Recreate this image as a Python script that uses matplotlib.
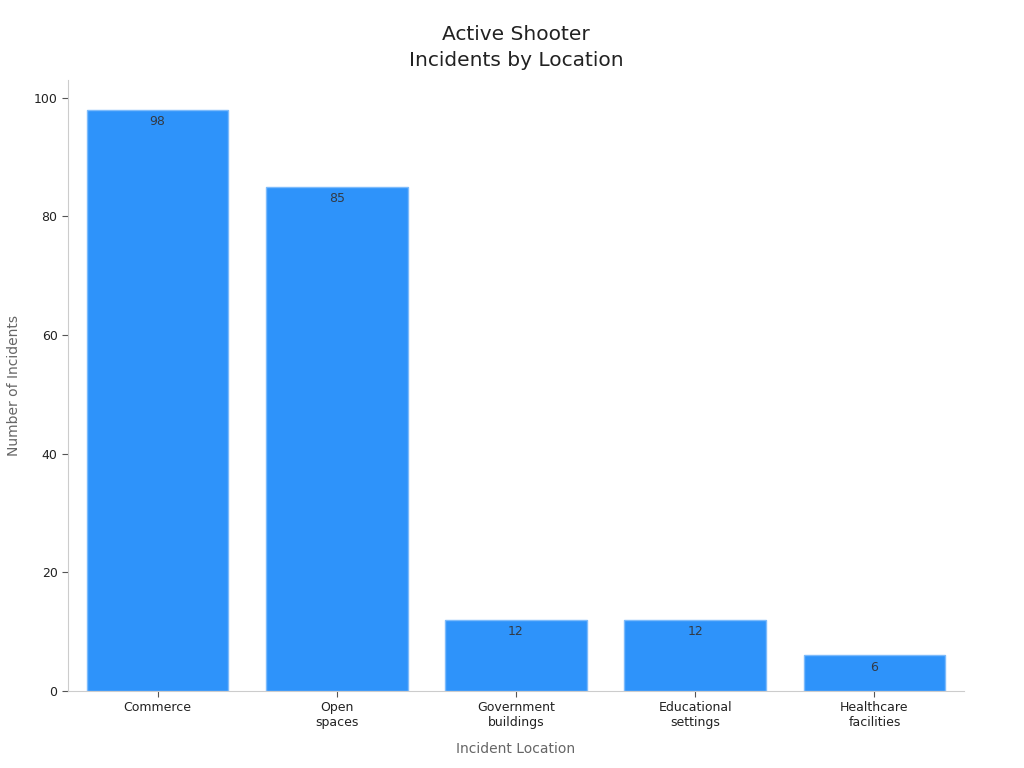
import matplotlib
matplotlib.use("Agg")
import matplotlib.pyplot as plt

categories = ["Commerce", "Open\nspaces", "Government\nbuildings", "Educational\nsettings", "Healthcare\nfacilities"]
incidents = [98, 85, 12, 12, 6]

fig = plt.figure(figsize=(10.24, 7.68), dpi=100)
ax = fig.add_axes([0.0664, 0.1003, 0.875, 0.7955])

x = list(range(len(categories)))
bars = ax.bar(x, incidents, width=0.79, color="#2E93FA", edgecolor="#7DBBFB", linewidth=1)

for xi, v in zip(x, incidents):
    ax.annotate(str(v), xy=(xi, v), xytext=(0, -4), textcoords="offset points",
                ha="center", va="top", fontsize=9, color="#333a44")

ax.set_xlim(-0.5, 4.5)
ax.set_ylim(0, 103)
ax.set_xticks(x)
ax.set_xticklabels(categories, fontsize=9, color="#222222")
ax.set_yticks([0, 20, 40, 60, 80, 100])
ax.tick_params(axis="y", labelsize=9, colors="#222222")
ax.tick_params(axis="both", color="#555555", length=4)
for s in ["top", "right"]:
    ax.spines[s].set_visible(False)
for s in ["left", "bottom"]:
    ax.spines[s].set_color("#cccccc")

ax.set_xlabel("Incident Location", fontsize=10, color="#666666", labelpad=9)
ax.set_ylabel("Number of Incidents", fontsize=10, color="#666666", labelpad=9)
ax.set_title("Active Shooter\nIncidents by Location", fontsize=14.5, color="#222222",
             pad=10, linespacing=1.5)

fig.savefig("out.png", dpi=100)
